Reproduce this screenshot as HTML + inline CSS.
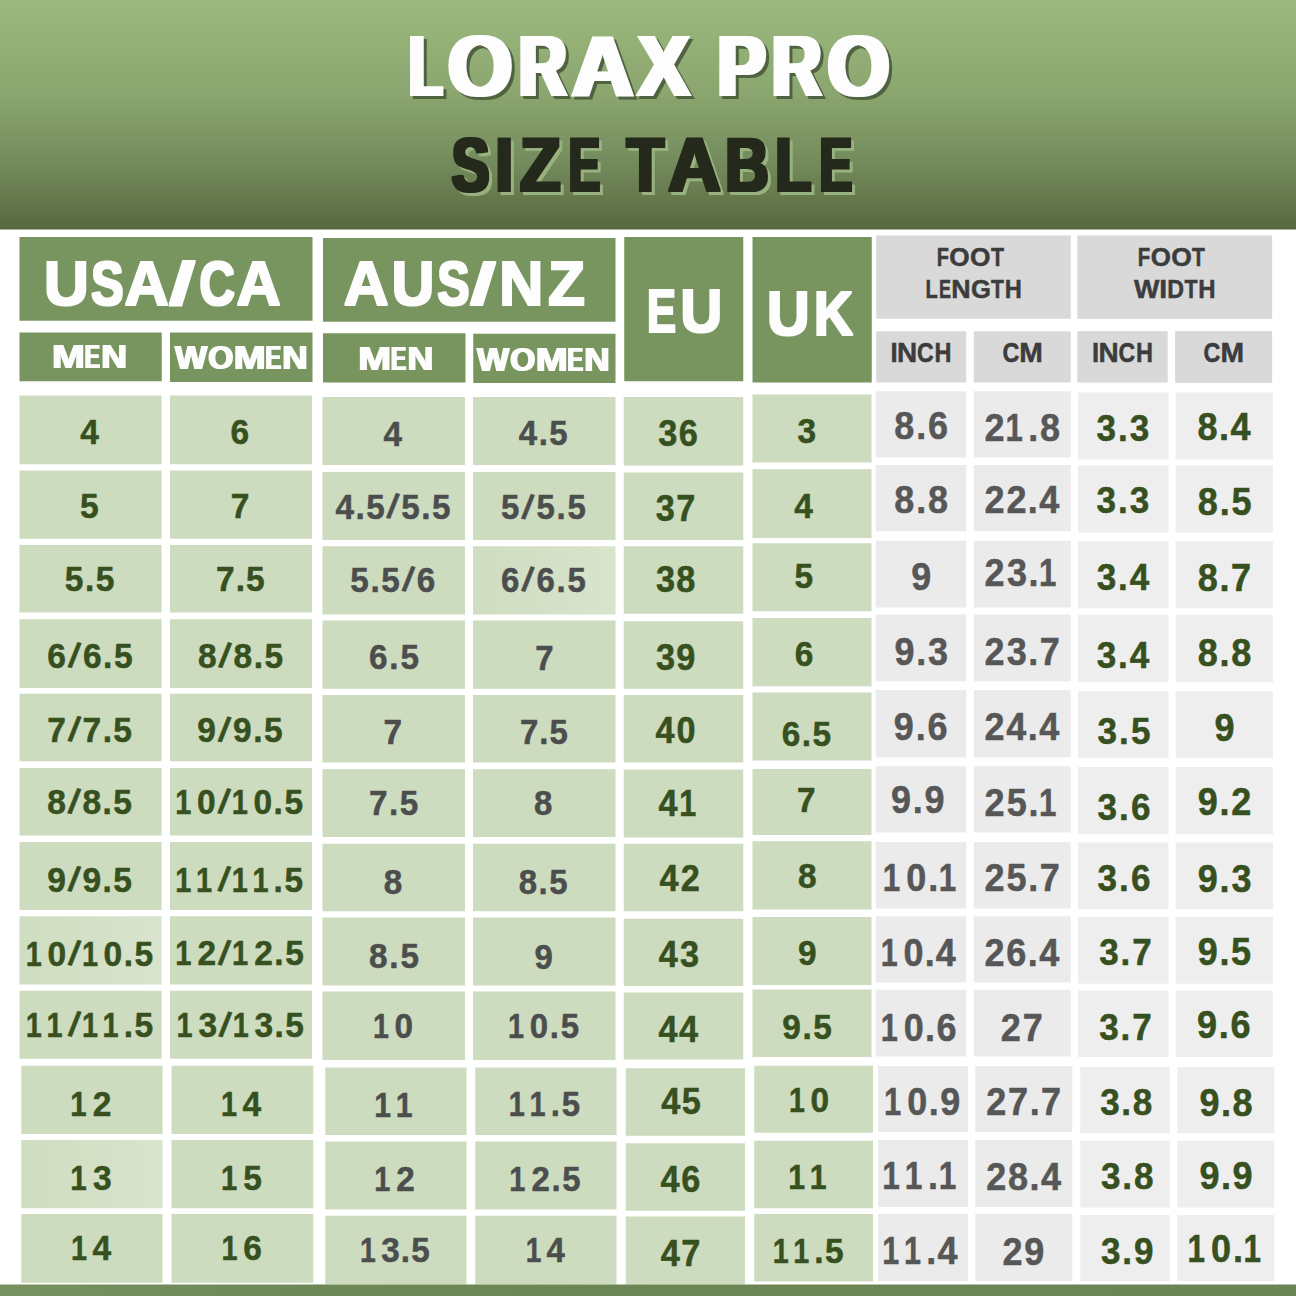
<!DOCTYPE html>
<html><head><meta charset="utf-8"><title>LORAX PRO Size Table</title>
<style>
html,body{margin:0;padding:0;background:#ffffff;}
body{width:1296px;height:1296px;overflow:hidden;}
svg{display:block;}
text{font-family:"Liberation Sans",Arial,sans-serif;font-weight:700;font-kerning:none;}
</style></head><body>
<svg width="1296" height="1296" viewBox="0 0 1296 1296">
<rect x="0" y="0" width="1296" height="1296" fill="#ffffff"/>
<defs><linearGradient id="hg" x1="0" y1="0" x2="0" y2="1"><stop offset="0" stop-color="#9bb97e"/><stop offset="0.4" stop-color="#8ba66f"/><stop offset="0.7" stop-color="#748c5d"/><stop offset="1.0" stop-color="#58683f"/></linearGradient></defs>
<defs><linearGradient id="lg" x1="0" y1="0" x2="1" y2="0"><stop offset="0" stop-color="#cfddc1"/><stop offset="1" stop-color="#d8e4cc"/></linearGradient></defs>
<rect x="0" y="0" width="1296" height="229.5" fill="url(#hg)"/>
<defs><filter id="fT" x="-5%" y="-15%" width="112%" height="130%" color-interpolation-filters="sRGB"><feMorphology in="SourceGraphic" operator="dilate" radius="3.4 0.4" result="d"/><feOffset in="d" dx="3" dy="3" result="o"/><feFlood flood-color="#4f6340"/><feComposite in2="o" operator="in" result="sh"/><feMerge><feMergeNode in="sh"/><feMergeNode in="d"/></feMerge></filter><filter id="fS" x="-5%" y="-15%" width="112%" height="130%" color-interpolation-filters="sRGB"><feMorphology in="SourceGraphic" operator="dilate" radius="2.2 0.6" result="d"/><feOffset in="d" dx="2.5" dy="2.5" result="o"/><feFlood flood-color="#97b27e"/><feComposite in2="o" operator="in" result="sh"/><feMerge><feMergeNode in="sh"/><feMergeNode in="d"/></feMerge></filter></defs>
<text font-size="87.5" fill="#fdfdfd" filter="url(#fT)"><tspan x="409.44" y="96.4" textLength="32.5" lengthAdjust="spacingAndGlyphs">L</tspan><tspan x="448.11" y="96.4" textLength="64.26" lengthAdjust="spacingAndGlyphs">O</tspan><tspan x="519.01" y="96.4" textLength="47.44" lengthAdjust="spacingAndGlyphs">R</tspan><tspan x="571.77" y="96.4" textLength="61.79" lengthAdjust="spacingAndGlyphs">A</tspan><tspan x="637.82" y="96.4" textLength="51.87" lengthAdjust="spacingAndGlyphs">X</tspan> <tspan x="717.58" y="96.4" textLength="48.09" lengthAdjust="spacingAndGlyphs">P</tspan><tspan x="771.93" y="96.4" textLength="49.38" lengthAdjust="spacingAndGlyphs">R</tspan><tspan x="827.43" y="96.4" textLength="62.02" lengthAdjust="spacingAndGlyphs">O</tspan></text>
<text font-size="75.58" fill="#25291b" filter="url(#fS)"><tspan x="451.87" y="190.9" textLength="37.63" lengthAdjust="spacingAndGlyphs">S</tspan><tspan x="495.18" y="190.9" textLength="17.94" lengthAdjust="spacingAndGlyphs">I</tspan><tspan x="519.92" y="190.9" textLength="40.59" lengthAdjust="spacingAndGlyphs">Z</tspan><tspan x="568.91" y="190.9" textLength="30.79" lengthAdjust="spacingAndGlyphs">E</tspan> <tspan x="626.72" y="190.9" textLength="37.14" lengthAdjust="spacingAndGlyphs">T</tspan><tspan x="668.19" y="190.9" textLength="52.42" lengthAdjust="spacingAndGlyphs">A</tspan><tspan x="725.17" y="190.9" textLength="43.46" lengthAdjust="spacingAndGlyphs">B</tspan><tspan x="775.25" y="190.9" textLength="36.07" lengthAdjust="spacingAndGlyphs">L</tspan><tspan x="819.87" y="190.9" textLength="32.22" lengthAdjust="spacingAndGlyphs">E</tspan></text>
<rect x="19.5" y="237" width="293" height="83.75" fill="#789560"/>
<rect x="323" y="238" width="292.5" height="83.75" fill="#789560"/>
<rect x="19.5" y="332.5" width="142.25" height="48.75" fill="#789560"/>
<rect x="170" y="332.5" width="142.5" height="49.5" fill="#789560"/>
<rect x="323" y="333.25" width="142.5" height="49.25" fill="#789560"/>
<rect x="473.25" y="333.75" width="142.25" height="49.25" fill="#789560"/>
<rect x="624.25" y="237" width="119" height="144.25" fill="#789560"/>
<rect x="752.5" y="237" width="119.25" height="145.5" fill="#789560"/>
<rect x="876.25" y="235.5" width="194.5" height="83.25" fill="#d9d9d9"/>
<rect x="1077.3" y="235.4" width="194.8" height="83.6" fill="#d9d9d9"/>
<rect x="876.25" y="331.25" width="90" height="51.25" fill="#d9d9d9"/>
<rect x="973.75" y="331.25" width="97" height="51.25" fill="#d9d9d9"/>
<rect x="1077.3" y="331.1" width="90.4" height="51.5" fill="#d9d9d9"/>
<rect x="1175.1" y="331.1" width="97" height="51.9" fill="#d9d9d9"/>
<defs><filter id="fH" x="-5%" y="-15%" width="112%" height="130%" color-interpolation-filters="sRGB"><feMorphology in="SourceGraphic" operator="dilate" radius="1.2 0.6" result="d"/></filter></defs>
<defs><filter id="fM" x="-5%" y="-15%" width="112%" height="130%" color-interpolation-filters="sRGB"><feMorphology in="SourceGraphic" operator="dilate" radius="0.6 0.3" result="d"/></filter></defs>
<rect x="19.5" y="395.5" width="142" height="68.75" fill="#cddcbf"/>
<rect x="19.5" y="470.5" width="142" height="68.25" fill="#cddcbf"/>
<rect x="19.5" y="545" width="142" height="67.5" fill="#cddcbf"/>
<rect x="19.5" y="619.25" width="142" height="68.75" fill="#cddcbf"/>
<rect x="19.5" y="693.75" width="142" height="67.5" fill="#cddcbf"/>
<rect x="19.5" y="768" width="142" height="67.5" fill="#cddcbf"/>
<rect x="19.5" y="842" width="142" height="68" fill="#cddcbf"/>
<rect x="19.5" y="916.25" width="142" height="68.25" fill="url(#lg)"/>
<rect x="19.5" y="990.75" width="142" height="68" fill="#cddcbf"/>
<rect x="21.25" y="1065.75" width="141.25" height="68.25" fill="#cddcbf"/>
<rect x="21.25" y="1140" width="141.25" height="68.25" fill="url(#lg)"/>
<rect x="21.25" y="1214" width="141.25" height="68.75" fill="#cddcbf"/>
<rect x="170" y="395.5" width="142" height="68.75" fill="#cddcbf"/>
<rect x="170" y="470.5" width="142" height="68.25" fill="#cddcbf"/>
<rect x="170" y="545" width="142" height="67.5" fill="#cddcbf"/>
<rect x="170" y="619.25" width="142" height="68.75" fill="#cddcbf"/>
<rect x="170" y="693.75" width="142" height="67.5" fill="#cddcbf"/>
<rect x="170" y="768" width="142" height="67.5" fill="#cddcbf"/>
<rect x="170" y="842" width="142" height="68" fill="#cddcbf"/>
<rect x="170" y="916.25" width="142" height="68.25" fill="#cddcbf"/>
<rect x="170" y="990.75" width="142" height="68" fill="#cddcbf"/>
<rect x="171.5" y="1065.75" width="141.75" height="68.25" fill="#cddcbf"/>
<rect x="171.5" y="1140" width="141.75" height="68.25" fill="#cddcbf"/>
<rect x="171.5" y="1214" width="141.75" height="68.75" fill="#cddcbf"/>
<rect x="322.5" y="397" width="142.5" height="68" fill="#cddcbf"/>
<rect x="322.5" y="472" width="142.5" height="68" fill="#cddcbf"/>
<rect x="322.5" y="546.25" width="142.5" height="68.25" fill="#cddcbf"/>
<rect x="322.5" y="620.5" width="142.5" height="68.25" fill="#cddcbf"/>
<rect x="322.5" y="695" width="142.5" height="67.5" fill="#cddcbf"/>
<rect x="322.5" y="769.25" width="142.5" height="67.75" fill="#cddcbf"/>
<rect x="322.5" y="843.75" width="142.5" height="67.5" fill="#cddcbf"/>
<rect x="322.5" y="917.5" width="142.5" height="68" fill="#cddcbf"/>
<rect x="322.5" y="991.5" width="142.5" height="68.5" fill="#cddcbf"/>
<rect x="325.25" y="1067.5" width="141.25" height="67.5" fill="#cddcbf"/>
<rect x="325.25" y="1141.5" width="141.25" height="68" fill="#cddcbf"/>
<rect x="325.25" y="1215.75" width="141.25" height="68.75" fill="#cddcbf"/>
<rect x="473" y="397" width="142.5" height="68" fill="#cddcbf"/>
<rect x="473" y="472" width="142.5" height="68" fill="#cddcbf"/>
<rect x="473" y="546.25" width="142.5" height="68.25" fill="url(#lg)"/>
<rect x="473" y="620.5" width="142.5" height="68.25" fill="#cddcbf"/>
<rect x="473" y="695" width="142.5" height="67.5" fill="#cddcbf"/>
<rect x="473" y="769.25" width="142.5" height="67.75" fill="#cddcbf"/>
<rect x="473" y="843.75" width="142.5" height="67.5" fill="#cddcbf"/>
<rect x="473" y="917.5" width="142.5" height="68" fill="#cddcbf"/>
<rect x="473" y="991.5" width="142.5" height="68.5" fill="#cddcbf"/>
<rect x="475.25" y="1067.5" width="141.25" height="67.5" fill="#cddcbf"/>
<rect x="475.25" y="1141.5" width="141.25" height="68" fill="#cddcbf"/>
<rect x="475.25" y="1215.75" width="141.25" height="68.75" fill="#cddcbf"/>
<rect x="623.75" y="397" width="119.5" height="68.5" fill="#cddcbf"/>
<rect x="623.75" y="472.5" width="119.5" height="67.5" fill="#cddcbf"/>
<rect x="623.75" y="546.25" width="119.5" height="67.5" fill="#cddcbf"/>
<rect x="623.75" y="621.25" width="119.5" height="67.5" fill="#cddcbf"/>
<rect x="623.75" y="695" width="119.5" height="67.5" fill="#cddcbf"/>
<rect x="623.75" y="769.5" width="119.5" height="68" fill="#cddcbf"/>
<rect x="623.75" y="843.75" width="119.5" height="67.5" fill="#cddcbf"/>
<rect x="623.75" y="918.75" width="119.5" height="67.25" fill="#cddcbf"/>
<rect x="623.75" y="992.5" width="119.5" height="67" fill="#cddcbf"/>
<rect x="625.75" y="1068.25" width="119.25" height="67.5" fill="#cddcbf"/>
<rect x="625.75" y="1143.25" width="119.25" height="67.5" fill="#cddcbf"/>
<rect x="625.75" y="1216.5" width="119.25" height="68" fill="#cddcbf"/>
<rect x="752.5" y="394.5" width="119" height="68" fill="#cddcbf"/>
<rect x="752.5" y="469.25" width="119" height="68.75" fill="#cddcbf"/>
<rect x="752.5" y="543.25" width="119" height="68" fill="#cddcbf"/>
<rect x="752.5" y="618" width="119" height="68.25" fill="#cddcbf"/>
<rect x="752.5" y="692.5" width="119" height="68" fill="#cddcbf"/>
<rect x="752.5" y="769" width="119" height="66" fill="#cddcbf"/>
<rect x="752.5" y="841.25" width="119" height="68.25" fill="#cddcbf"/>
<rect x="752.5" y="917" width="119" height="68" fill="#cddcbf"/>
<rect x="752.5" y="989.5" width="119" height="67.5" fill="#cddcbf"/>
<rect x="754.25" y="1065.75" width="118.75" height="67" fill="#cddcbf"/>
<rect x="754.25" y="1140.75" width="118.75" height="67.5" fill="#cddcbf"/>
<rect x="754.25" y="1214" width="118.75" height="67.5" fill="#cddcbf"/>
<rect x="875.75" y="391.25" width="90.5" height="66.25" fill="#ebebeb"/>
<rect x="875.75" y="465" width="90.5" height="66.25" fill="#ebebeb"/>
<rect x="875.75" y="540.75" width="90.5" height="66.75" fill="#ebebeb"/>
<rect x="875.75" y="614.5" width="90.5" height="66.75" fill="#ebebeb"/>
<rect x="875.75" y="690" width="90.5" height="67.5" fill="#ebebeb"/>
<rect x="875.75" y="766.25" width="90.5" height="66.25" fill="#ebebeb"/>
<rect x="875.75" y="842" width="90.5" height="66.5" fill="#ebebeb"/>
<rect x="875.75" y="916.25" width="90.5" height="66.25" fill="#ebebeb"/>
<rect x="875.75" y="989.75" width="90.5" height="66.75" fill="#ebebeb"/>
<rect x="878" y="1066" width="90" height="66" fill="#ebebeb"/>
<rect x="878" y="1140" width="90" height="67" fill="#ebebeb"/>
<rect x="878" y="1214" width="90" height="67" fill="#ebebeb"/>
<rect x="973.75" y="391.25" width="97" height="66.25" fill="#ebebeb"/>
<rect x="973.75" y="465" width="97" height="66.25" fill="#ebebeb"/>
<rect x="973.75" y="540.75" width="97" height="66.75" fill="#ebebeb"/>
<rect x="973.75" y="614.5" width="97" height="66.75" fill="#ebebeb"/>
<rect x="973.75" y="690" width="97" height="67.5" fill="#ebebeb"/>
<rect x="973.75" y="766.25" width="97" height="66.25" fill="#ebebeb"/>
<rect x="973.75" y="842" width="97" height="66.5" fill="#ebebeb"/>
<rect x="973.75" y="916.25" width="97" height="66.25" fill="#ebebeb"/>
<rect x="973.75" y="989.75" width="97" height="66.75" fill="#ebebeb"/>
<rect x="975.25" y="1066" width="97" height="66" fill="#ebebeb"/>
<rect x="975.25" y="1140" width="97" height="67" fill="#ebebeb"/>
<rect x="975.25" y="1214" width="97" height="67" fill="#ebebeb"/>
<rect x="1078" y="392.5" width="90.5" height="67" fill="#eeeeee"/>
<rect x="1078" y="465.5" width="90.5" height="67" fill="#eeeeee"/>
<rect x="1078" y="541.25" width="90.5" height="67" fill="#eeeeee"/>
<rect x="1078" y="615" width="90.5" height="67" fill="#eeeeee"/>
<rect x="1078" y="691.25" width="90.5" height="67" fill="#eeeeee"/>
<rect x="1078" y="767" width="90.5" height="67.25" fill="#eeeeee"/>
<rect x="1078" y="842.5" width="90.5" height="66.75" fill="#eeeeee"/>
<rect x="1078" y="917" width="90.5" height="66.75" fill="#eeeeee"/>
<rect x="1078" y="990.75" width="90.5" height="66.25" fill="#eeeeee"/>
<rect x="1080.25" y="1067" width="89.5" height="66.25" fill="#eeeeee"/>
<rect x="1080.25" y="1140.75" width="89.5" height="66.75" fill="#eeeeee"/>
<rect x="1080.25" y="1215" width="89.5" height="66.25" fill="#eeeeee"/>
<rect x="1175.75" y="392.5" width="97.25" height="67" fill="#eeeeee"/>
<rect x="1175.75" y="465.5" width="97.25" height="67" fill="#eeeeee"/>
<rect x="1175.75" y="541.25" width="97.25" height="67" fill="#eeeeee"/>
<rect x="1175.75" y="615" width="97.25" height="67" fill="#eeeeee"/>
<rect x="1175.75" y="691.25" width="97.25" height="67" fill="#eeeeee"/>
<rect x="1175.75" y="767" width="97.25" height="67.25" fill="#eeeeee"/>
<rect x="1175.75" y="842.5" width="97.25" height="66.75" fill="#eeeeee"/>
<rect x="1175.75" y="917" width="97.25" height="66.75" fill="#eeeeee"/>
<rect x="1175.75" y="990.75" width="97.25" height="66.25" fill="#eeeeee"/>
<rect x="1177.25" y="1067" width="97" height="66.25" fill="#eeeeee"/>
<rect x="1177.25" y="1140.75" width="97" height="66.75" fill="#eeeeee"/>
<rect x="1177.25" y="1215" width="97" height="66.25" fill="#eeeeee"/>
<defs><linearGradient id="bg2" x1="0" y1="0" x2="1" y2="0"><stop offset="0" stop-color="#77915f"/><stop offset="0.25" stop-color="#6e8757"/><stop offset="1" stop-color="#6b8454"/></linearGradient></defs>
<rect x="0" y="1284.5" width="1296" height="11.5" fill="url(#bg2)"/>

<text font-size="63.66" fill="#fdfdfd" filter="url(#fH)"><tspan x="43.63" y="305" textLength="45.3" lengthAdjust="spacingAndGlyphs">U</tspan><tspan x="90.89" y="305" textLength="32.73" lengthAdjust="spacingAndGlyphs">S</tspan><tspan x="124.58" y="305" textLength="44.13" lengthAdjust="spacingAndGlyphs">A</tspan><tspan x="168.55" y="303.82" font-size="58.82" textLength="27.11" lengthAdjust="spacingAndGlyphs">/</tspan><tspan x="199.27" y="305" textLength="35.68" lengthAdjust="spacingAndGlyphs">C</tspan><tspan x="236.48" y="305" textLength="44.13" lengthAdjust="spacingAndGlyphs">A</tspan></text><text font-size="62.21" fill="#fdfdfd" filter="url(#fH)"><tspan x="343.86" y="305.4" textLength="44.78" lengthAdjust="spacingAndGlyphs">A</tspan><tspan x="391.62" y="305.4" textLength="43.01" lengthAdjust="spacingAndGlyphs">U</tspan><tspan x="437.2" y="305.4" textLength="32.4" lengthAdjust="spacingAndGlyphs">S</tspan><tspan x="469.87" y="304.25" font-size="57.48" textLength="26.46" lengthAdjust="spacingAndGlyphs">/</tspan><tspan x="499.08" y="305.4" textLength="44.47" lengthAdjust="spacingAndGlyphs">N</tspan><tspan x="548.09" y="305.4" textLength="37.05" lengthAdjust="spacingAndGlyphs">Z</tspan></text><text font-size="61.68" fill="#fdfdfd" filter="url(#fH)"><tspan x="647.05" y="332.4" textLength="28.95" lengthAdjust="spacingAndGlyphs">E</tspan><tspan x="680.19" y="332.4" textLength="42.17" lengthAdjust="spacingAndGlyphs">U</tspan></text><text font-size="62.03" fill="#fdfdfd" filter="url(#fH)"><tspan x="766.87" y="335.15" textLength="43.07" lengthAdjust="spacingAndGlyphs">U</tspan><tspan x="813.82" y="335.15" textLength="39.24" lengthAdjust="spacingAndGlyphs">K</tspan></text>
<text font-size="33.43" fill="#fdfdfd" filter="url(#fM)"><tspan x="51.96" y="367.9" textLength="32.88" lengthAdjust="spacingAndGlyphs">M</tspan><tspan x="84.69" y="367.9" textLength="15.1" lengthAdjust="spacingAndGlyphs">E</tspan><tspan x="101.21" y="367.9" textLength="25.8" lengthAdjust="spacingAndGlyphs">N</tspan></text>
<text font-size="33.28" fill="#fdfdfd" filter="url(#fM)"><tspan x="174.97" y="368.9" textLength="32.27" lengthAdjust="spacingAndGlyphs">W</tspan><tspan x="208.18" y="368.9" textLength="25.08" lengthAdjust="spacingAndGlyphs">O</tspan><tspan x="233.74" y="368.9" textLength="31.93" lengthAdjust="spacingAndGlyphs">M</tspan><tspan x="265.44" y="368.9" textLength="15.57" lengthAdjust="spacingAndGlyphs">E</tspan><tspan x="282.24" y="368.9" textLength="25.43" lengthAdjust="spacingAndGlyphs">N</tspan></text>
<text font-size="33.43" fill="#fdfdfd" filter="url(#fM)"><tspan x="358.21" y="370.4" textLength="32.88" lengthAdjust="spacingAndGlyphs">M</tspan><tspan x="390.94" y="370.4" textLength="15.1" lengthAdjust="spacingAndGlyphs">E</tspan><tspan x="407.46" y="370.4" textLength="25.8" lengthAdjust="spacingAndGlyphs">N</tspan></text>
<text font-size="33.28" fill="#fdfdfd" filter="url(#fM)"><tspan x="476.97" y="370.9" textLength="32.27" lengthAdjust="spacingAndGlyphs">W</tspan><tspan x="510.18" y="370.9" textLength="25.08" lengthAdjust="spacingAndGlyphs">O</tspan><tspan x="535.74" y="370.9" textLength="31.93" lengthAdjust="spacingAndGlyphs">M</tspan><tspan x="567.44" y="370.9" textLength="15.57" lengthAdjust="spacingAndGlyphs">E</tspan><tspan x="584.24" y="370.9" textLength="25.43" lengthAdjust="spacingAndGlyphs">N</tspan></text>
<text stroke="#3c3c3c" stroke-width="0.5" font-size="26.26" fill="#3c3c3c"><tspan x="936.72" y="265.65" textLength="12.16" lengthAdjust="spacingAndGlyphs">F</tspan><tspan x="949.28" y="265.65" textLength="20.37" lengthAdjust="spacingAndGlyphs">O</tspan><tspan x="969.97" y="265.65" textLength="20.49" lengthAdjust="spacingAndGlyphs">O</tspan><tspan x="990.91" y="265.65" textLength="13.07" lengthAdjust="spacingAndGlyphs">T</tspan></text>
<text stroke="#3c3c3c" stroke-width="0.5" font-size="26.26" fill="#3c3c3c"><tspan x="925.51" y="298.35" textLength="12.26" lengthAdjust="spacingAndGlyphs">L</tspan><tspan x="939.05" y="298.35" textLength="12.01" lengthAdjust="spacingAndGlyphs">E</tspan><tspan x="951.35" y="298.35" textLength="19.41" lengthAdjust="spacingAndGlyphs">N</tspan><tspan x="971" y="298.35" textLength="19.94" lengthAdjust="spacingAndGlyphs">G</tspan><tspan x="991.11" y="298.35" textLength="12.86" lengthAdjust="spacingAndGlyphs">T</tspan><tspan x="1004.87" y="298.35" textLength="17.07" lengthAdjust="spacingAndGlyphs">H</tspan></text>
<text stroke="#3c3c3c" stroke-width="0.5" font-size="25.97" fill="#3c3c3c"><tspan x="1137.79" y="265.55" textLength="12.4" lengthAdjust="spacingAndGlyphs">F</tspan><tspan x="1150.79" y="265.55" textLength="20.15" lengthAdjust="spacingAndGlyphs">O</tspan><tspan x="1171.26" y="265.55" textLength="20.6" lengthAdjust="spacingAndGlyphs">O</tspan><tspan x="1192.01" y="265.55" textLength="12.86" lengthAdjust="spacingAndGlyphs">T</tspan></text>
<text stroke="#3c3c3c" stroke-width="0.5" font-size="26.12" fill="#3c3c3c"><tspan x="1134.12" y="298.05" textLength="25.35" lengthAdjust="spacingAndGlyphs">W</tspan><tspan x="1159.25" y="298.05" textLength="7.91" lengthAdjust="spacingAndGlyphs">I</tspan><tspan x="1167.3" y="298.05" textLength="16.72" lengthAdjust="spacingAndGlyphs">D</tspan><tspan x="1184.41" y="298.05" textLength="13.07" lengthAdjust="spacingAndGlyphs">T</tspan><tspan x="1198.15" y="298.05" textLength="17.32" lengthAdjust="spacingAndGlyphs">H</tspan></text>
<text stroke="#3c3c3c" stroke-width="0.5" font-size="26.84" fill="#3c3c3c"><tspan x="890.53" y="361.75" textLength="7.14" lengthAdjust="spacingAndGlyphs">I</tspan><tspan x="897.08" y="361.75" textLength="20.15" lengthAdjust="spacingAndGlyphs">N</tspan><tspan x="917.1" y="361.75" textLength="16.68" lengthAdjust="spacingAndGlyphs">C</tspan><tspan x="934.58" y="361.75" textLength="16.95" lengthAdjust="spacingAndGlyphs">H</tspan></text>
<text stroke="#3c3c3c" stroke-width="0.5" font-size="26.84" fill="#3c3c3c"><tspan x="1002.39" y="361.75" textLength="16.9" lengthAdjust="spacingAndGlyphs">C</tspan><tspan x="1019.36" y="361.75" textLength="23.59" lengthAdjust="spacingAndGlyphs">M</tspan></text>
<text stroke="#3c3c3c" stroke-width="0.5" font-size="26.84" fill="#3c3c3c"><tspan x="1091.93" y="362.35" textLength="7.14" lengthAdjust="spacingAndGlyphs">I</tspan><tspan x="1098.48" y="362.35" textLength="20.15" lengthAdjust="spacingAndGlyphs">N</tspan><tspan x="1118.5" y="362.35" textLength="16.68" lengthAdjust="spacingAndGlyphs">C</tspan><tspan x="1135.98" y="362.35" textLength="16.95" lengthAdjust="spacingAndGlyphs">H</tspan></text>
<text stroke="#3c3c3c" stroke-width="0.5" font-size="26.84" fill="#3c3c3c"><tspan x="1203.59" y="362.35" textLength="16.9" lengthAdjust="spacingAndGlyphs">C</tspan><tspan x="1220.56" y="362.35" textLength="23.59" lengthAdjust="spacingAndGlyphs">M</tspan></text>
<text transform="scale(0.95 1)" font-size="35.34" fill="#375020" stroke="#375020" stroke-width="0.5" stroke-linejoin="round"><tspan x="84.47" y="444.07">4</tspan></text>
<text transform="scale(0.95 1)" font-size="35.34" fill="#375020" stroke="#375020" stroke-width="0.5" stroke-linejoin="round"><tspan x="84.2" y="518.27">5</tspan></text>
<text transform="scale(0.95 1)" font-size="35.34" fill="#375020" stroke="#375020" stroke-width="0.5" stroke-linejoin="round"><tspan x="68.16" y="591.33">5</tspan><tspan x="89.38" y="591.33">.</tspan><tspan x="100.77" y="591.33">5</tspan></text>
<text transform="scale(0.95 1)" font-size="35.34" fill="#375020" stroke="#375020" stroke-width="0.5" stroke-linejoin="round"><tspan x="49.78" y="667.98">6</tspan><tspan x="71" y="666.35" font-size="35.22" rotate="12">/</tspan><tspan x="87.33" y="667.98">6</tspan><tspan x="108.54" y="667.98">.</tspan><tspan x="119.96" y="667.98">5</tspan></text>
<text transform="scale(0.95 1)" font-size="35.34" fill="#375020" stroke="#375020" stroke-width="0.5" stroke-linejoin="round"><tspan x="49.84" y="741.71">7</tspan><tspan x="70.96" y="740.08" font-size="35.22" rotate="12">/</tspan><tspan x="86.93" y="741.71">7</tspan><tspan x="108.07" y="741.71">.</tspan><tspan x="119.29" y="741.71">5</tspan></text>
<text transform="scale(0.95 1)" font-size="35.34" fill="#375020" stroke="#375020" stroke-width="0.5" stroke-linejoin="round"><tspan x="49.63" y="814">8</tspan><tspan x="70.75" y="812.37" font-size="35.22" rotate="12">/</tspan><tspan x="86.85" y="814">8</tspan><tspan x="107.98" y="814">.</tspan><tspan x="119.26" y="814">5</tspan></text>
<text transform="scale(0.95 1)" font-size="35.34" fill="#375020" stroke="#375020" stroke-width="0.5" stroke-linejoin="round"><tspan x="49.73" y="891.73">9</tspan><tspan x="70.82" y="890.1" font-size="35.22" rotate="12">/</tspan><tspan x="86.91" y="891.73">9</tspan><tspan x="108.01" y="891.73">.</tspan><tspan x="119.27" y="891.73">5</tspan></text>
<text transform="scale(0.95 1)" font-size="35.34" fill="#375020" stroke="#375020" stroke-width="0.5" stroke-linejoin="round"><tspan x="27.23" y="965.53" textLength="16.88" lengthAdjust="spacingAndGlyphs">1</tspan><tspan x="49.98" y="965.53">0</tspan><tspan x="71.14" y="963.9" font-size="35.22" rotate="12">/</tspan><tspan x="86.31" y="965.53" textLength="16.88" lengthAdjust="spacingAndGlyphs">1</tspan><tspan x="109.06" y="965.53">0</tspan><tspan x="130.23" y="965.53">.</tspan><tspan x="141.58" y="965.53">5</tspan></text>
<text transform="scale(0.95 1)" font-size="35.34" fill="#375020" stroke="#375020" stroke-width="0.5" stroke-linejoin="round"><tspan x="27.23" y="1036.71" textLength="16.88" lengthAdjust="spacingAndGlyphs">1</tspan><tspan x="48.92" y="1036.71" textLength="16.88" lengthAdjust="spacingAndGlyphs">1</tspan><tspan x="71.14" y="1035.08" font-size="35.22" rotate="12">/</tspan><tspan x="86.31" y="1036.71" textLength="16.88" lengthAdjust="spacingAndGlyphs">1</tspan><tspan x="108.01" y="1036.71" textLength="16.88" lengthAdjust="spacingAndGlyphs">1</tspan><tspan x="130.23" y="1036.71">.</tspan><tspan x="141.58" y="1036.71">5</tspan></text>
<text transform="scale(0.95 1)" font-size="35.34" fill="#375020" stroke="#375020" stroke-width="0.5" stroke-linejoin="round"><tspan x="74.02" y="1116.5" textLength="17.25" lengthAdjust="spacingAndGlyphs">1</tspan><tspan x="97.65" y="1116.5">2</tspan></text>
<text transform="scale(0.95 1)" font-size="35.34" fill="#375020" stroke="#375020" stroke-width="0.5" stroke-linejoin="round"><tspan x="74" y="1190.08" textLength="17.36" lengthAdjust="spacingAndGlyphs">1</tspan><tspan x="97.86" y="1190.08">3</tspan></text>
<text transform="scale(0.95 1)" font-size="35.34" fill="#375020" stroke="#375020" stroke-width="0.5" stroke-linejoin="round"><tspan x="74.86" y="1260.07" textLength="16.88" lengthAdjust="spacingAndGlyphs">1</tspan><tspan x="97.41" y="1260.07">4</tspan></text>
<text transform="scale(0.95 1)" font-size="35.27" fill="#375020" stroke="#375020" stroke-width="0.5" stroke-linejoin="round"><tspan x="242.68" y="444.02">6</tspan></text>
<text transform="scale(0.95 1)" font-size="35.27" fill="#375020" stroke="#375020" stroke-width="0.5" stroke-linejoin="round"><tspan x="242.84" y="518.4">7</tspan></text>
<text transform="scale(0.95 1)" font-size="35.27" fill="#375020" stroke="#375020" stroke-width="0.5" stroke-linejoin="round"><tspan x="227.29" y="591.31">7</tspan><tspan x="248.08" y="591.31">.</tspan><tspan x="258.97" y="591.31">5</tspan></text>
<text transform="scale(0.95 1)" font-size="35.27" fill="#375020" stroke="#375020" stroke-width="0.5" stroke-linejoin="round"><tspan x="208.39" y="667.97">8</tspan><tspan x="229.61" y="666.34" font-size="35.15" rotate="12">/</tspan><tspan x="245.83" y="667.97">8</tspan><tspan x="267.05" y="667.97">.</tspan><tspan x="278.43" y="667.97">5</tspan></text>
<text transform="scale(0.95 1)" font-size="35.27" fill="#375020" stroke="#375020" stroke-width="0.5" stroke-linejoin="round"><tspan x="207.73" y="742.08">9</tspan><tspan x="228.98" y="740.45" font-size="35.15" rotate="12">/</tspan><tspan x="245.24" y="742.08">9</tspan><tspan x="266.48" y="742.08">.</tspan><tspan x="277.89" y="742.08">5</tspan></text>
<text transform="scale(0.95 1)" font-size="35.27" fill="#375020" stroke="#375020" stroke-width="0.5" stroke-linejoin="round"><tspan x="184.58" y="814.01" textLength="16.95" lengthAdjust="spacingAndGlyphs">1</tspan><tspan x="207.49" y="814.01">0</tspan><tspan x="228.72" y="812.38" font-size="35.15" rotate="12">/</tspan><tspan x="243.91" y="814.01" textLength="16.95" lengthAdjust="spacingAndGlyphs">1</tspan><tspan x="266.81" y="814.01">0</tspan><tspan x="288.03" y="814.01">.</tspan><tspan x="299.46" y="814.01">5</tspan></text>
<text transform="scale(0.95 1)" font-size="35.27" fill="#375020" stroke="#375020" stroke-width="0.5" stroke-linejoin="round"><tspan x="184.58" y="891.56" textLength="16.95" lengthAdjust="spacingAndGlyphs">1</tspan><tspan x="206.37" y="891.56" textLength="16.95" lengthAdjust="spacingAndGlyphs">1</tspan><tspan x="228.72" y="889.93" font-size="35.15" rotate="12">/</tspan><tspan x="243.91" y="891.56" textLength="16.95" lengthAdjust="spacingAndGlyphs">1</tspan><tspan x="265.69" y="891.56" textLength="16.95" lengthAdjust="spacingAndGlyphs">1</tspan><tspan x="288.03" y="891.56">.</tspan><tspan x="299.46" y="891.56">5</tspan></text>
<text transform="scale(0.95 1)" font-size="35.27" fill="#375020" stroke="#375020" stroke-width="0.5" stroke-linejoin="round"><tspan x="184.57" y="965.49" textLength="17.05" lengthAdjust="spacingAndGlyphs">1</tspan><tspan x="207.85" y="965.49">2</tspan><tspan x="229.01" y="963.86" font-size="35.15" rotate="12">/</tspan><tspan x="244.25" y="965.49" textLength="17.05" lengthAdjust="spacingAndGlyphs">1</tspan><tspan x="267.53" y="965.49">2</tspan><tspan x="288.67" y="965.49">.</tspan><tspan x="300.19" y="965.49">5</tspan></text>
<text transform="scale(0.95 1)" font-size="35.27" fill="#375020" stroke="#375020" stroke-width="0.5" stroke-linejoin="round"><tspan x="185.91" y="1037.24" textLength="16.88" lengthAdjust="spacingAndGlyphs">1</tspan><tspan x="208.87" y="1037.24">3</tspan><tspan x="229.84" y="1035.61" font-size="35.15" rotate="12">/</tspan><tspan x="245" y="1037.24" textLength="16.88" lengthAdjust="spacingAndGlyphs">1</tspan><tspan x="267.96" y="1037.24">3</tspan><tspan x="288.92" y="1037.24">.</tspan><tspan x="300.29" y="1037.24">5</tspan></text>
<text transform="scale(0.95 1)" font-size="35.27" fill="#375020" stroke="#375020" stroke-width="0.5" stroke-linejoin="round"><tspan x="232.75" y="1116.29" textLength="16.88" lengthAdjust="spacingAndGlyphs">1</tspan><tspan x="255.33" y="1116.29">4</tspan></text>
<text transform="scale(0.95 1)" font-size="35.27" fill="#375020" stroke="#375020" stroke-width="0.5" stroke-linejoin="round"><tspan x="232.72" y="1190.49" textLength="17.13" lengthAdjust="spacingAndGlyphs">1</tspan><tspan x="255.95" y="1190.49">5</tspan></text>
<text transform="scale(0.95 1)" font-size="35.27" fill="#375020" stroke="#375020" stroke-width="0.5" stroke-linejoin="round"><tspan x="233.27" y="1260.39" textLength="16.91" lengthAdjust="spacingAndGlyphs">1</tspan><tspan x="256.12" y="1260.39">6</tspan></text>
<text transform="scale(0.95 1)" font-size="35.06" fill="#4c4e4e" stroke="#4c4e4e" stroke-width="0.5" stroke-linejoin="round"><tspan x="403.63" y="445.72">4</tspan></text>
<text transform="scale(0.95 1)" font-size="35.06" fill="#4c4e4e" stroke="#4c4e4e" stroke-width="0.5" stroke-linejoin="round"><tspan x="353.09" y="518.73">4</tspan><tspan x="374.23" y="518.73">.</tspan><tspan x="385.45" y="518.73">5</tspan><tspan x="406.41" y="517.12" font-size="34.95" rotate="12">/</tspan><tspan x="422.46" y="518.73">5</tspan><tspan x="443.43" y="518.73">.</tspan><tspan x="454.65" y="518.73">5</tspan></text>
<text transform="scale(0.95 1)" font-size="35.06" fill="#4c4e4e" stroke="#4c4e4e" stroke-width="0.5" stroke-linejoin="round"><tspan x="368.75" y="591.63">5</tspan><tspan x="389.91" y="591.63">.</tspan><tspan x="401.33" y="591.63">5</tspan><tspan x="422.51" y="590.01" font-size="34.95" rotate="12">/</tspan><tspan x="438.81" y="591.63">6</tspan></text>
<text transform="scale(0.95 1)" font-size="35.06" fill="#4c4e4e" stroke="#4c4e4e" stroke-width="0.5" stroke-linejoin="round"><tspan x="388.41" y="669.13">6</tspan><tspan x="409.81" y="669.13">.</tspan><tspan x="421.5" y="669.13">5</tspan></text>
<text transform="scale(0.95 1)" font-size="35.06" fill="#4c4e4e" stroke="#4c4e4e" stroke-width="0.5" stroke-linejoin="round"><tspan x="403.82" y="743.57">7</tspan></text>
<text transform="scale(0.95 1)" font-size="35.06" fill="#4c4e4e" stroke="#4c4e4e" stroke-width="0.5" stroke-linejoin="round"><tspan x="388.39" y="814.98">7</tspan><tspan x="409.57" y="814.98">.</tspan><tspan x="420.9" y="814.98">5</tspan></text>
<text transform="scale(0.95 1)" font-size="35.06" fill="#4c4e4e" stroke="#4c4e4e" stroke-width="0.5" stroke-linejoin="round"><tspan x="403.92" y="893.58">8</tspan></text>
<text transform="scale(0.95 1)" font-size="35.06" fill="#4c4e4e" stroke="#4c4e4e" stroke-width="0.5" stroke-linejoin="round"><tspan x="388.35" y="967.52">8</tspan><tspan x="409.81" y="967.52">.</tspan><tspan x="421.5" y="967.52">5</tspan></text>
<text transform="scale(0.95 1)" font-size="35.06" fill="#4c4e4e" stroke="#4c4e4e" stroke-width="0.5" stroke-linejoin="round"><tspan x="392.77" y="1038.12" textLength="16.75" lengthAdjust="spacingAndGlyphs">1</tspan><tspan x="415.34" y="1038.12">0</tspan></text>
<text transform="scale(0.95 1)" font-size="35.06" fill="#4c4e4e" stroke="#4c4e4e" stroke-width="0.5" stroke-linejoin="round"><tspan x="393.96" y="1116.84" textLength="17.7" lengthAdjust="spacingAndGlyphs">1</tspan><tspan x="416.7" y="1116.84" textLength="17.7" lengthAdjust="spacingAndGlyphs">1</tspan></text>
<text transform="scale(0.95 1)" font-size="35.06" fill="#4c4e4e" stroke="#4c4e4e" stroke-width="0.5" stroke-linejoin="round"><tspan x="394.06" y="1191.4" textLength="16.91" lengthAdjust="spacingAndGlyphs">1</tspan><tspan x="417.12" y="1191.4">2</tspan></text>
<text transform="scale(0.95 1)" font-size="35.06" fill="#4c4e4e" stroke="#4c4e4e" stroke-width="0.5" stroke-linejoin="round"><tspan x="378.85" y="1261.79" textLength="16.55" lengthAdjust="spacingAndGlyphs">1</tspan><tspan x="401.21" y="1261.79">3</tspan><tspan x="421.83" y="1261.79">.</tspan><tspan x="432.89" y="1261.79">5</tspan></text>
<text transform="scale(0.95 1)" font-size="34.72" fill="#4c4e4e" stroke="#4c4e4e" stroke-width="0.5" stroke-linejoin="round"><tspan x="546.03" y="444.74">4</tspan><tspan x="567.03" y="444.74">.</tspan><tspan x="578.21" y="444.74">5</tspan></text>
<text transform="scale(0.95 1)" font-size="34.72" fill="#4c4e4e" stroke="#4c4e4e" stroke-width="0.5" stroke-linejoin="round"><tspan x="527.26" y="519.49">5</tspan><tspan x="548.42" y="517.89" font-size="34.6" rotate="12">/</tspan><tspan x="564.7" y="519.49">5</tspan><tspan x="585.81" y="519.49">.</tspan><tspan x="597.27" y="519.49">5</tspan></text>
<text transform="scale(0.95 1)" font-size="34.72" fill="#4c4e4e" stroke="#4c4e4e" stroke-width="0.5" stroke-linejoin="round"><tspan x="527.29" y="591.51">6</tspan><tspan x="548.41" y="589.91" font-size="34.6" rotate="12">/</tspan><tspan x="564.73" y="591.51">6</tspan><tspan x="585.81" y="591.51">.</tspan><tspan x="597.27" y="591.51">5</tspan></text>
<text transform="scale(0.95 1)" font-size="34.72" fill="#4c4e4e" stroke="#4c4e4e" stroke-width="0.5" stroke-linejoin="round"><tspan x="563.39" y="669.7">7</tspan></text>
<text transform="scale(0.95 1)" font-size="34.72" fill="#4c4e4e" stroke="#4c4e4e" stroke-width="0.5" stroke-linejoin="round"><tspan x="547.29" y="743.61">7</tspan><tspan x="567.76" y="743.61">.</tspan><tspan x="578.47" y="743.61">5</tspan></text>
<text transform="scale(0.95 1)" font-size="34.72" fill="#4c4e4e" stroke="#4c4e4e" stroke-width="0.5" stroke-linejoin="round"><tspan x="562.17" y="814.71">8</tspan></text>
<text transform="scale(0.95 1)" font-size="34.72" fill="#4c4e4e" stroke="#4c4e4e" stroke-width="0.5" stroke-linejoin="round"><tspan x="546.04" y="893.77">8</tspan><tspan x="566.96" y="893.77">.</tspan><tspan x="578.19" y="893.77">5</tspan></text>
<text transform="scale(0.95 1)" font-size="34.72" fill="#4c4e4e" stroke="#4c4e4e" stroke-width="0.5" stroke-linejoin="round"><tspan x="562.62" y="968.82">9</tspan></text>
<text transform="scale(0.95 1)" font-size="34.72" fill="#4c4e4e" stroke="#4c4e4e" stroke-width="0.5" stroke-linejoin="round"><tspan x="534.86" y="1038.31" textLength="16.86" lengthAdjust="spacingAndGlyphs">1</tspan><tspan x="557.73" y="1038.31">0</tspan><tspan x="578.78" y="1038.31">.</tspan><tspan x="590.19" y="1038.31">5</tspan></text>
<text transform="scale(0.95 1)" font-size="34.72" fill="#4c4e4e" stroke="#4c4e4e" stroke-width="0.5" stroke-linejoin="round"><tspan x="535.64" y="1116.49" textLength="16.92" lengthAdjust="spacingAndGlyphs">1</tspan><tspan x="557.38" y="1116.49" textLength="16.92" lengthAdjust="spacingAndGlyphs">1</tspan><tspan x="579.74" y="1116.49">.</tspan><tspan x="591.21" y="1116.49">5</tspan></text>
<text transform="scale(0.95 1)" font-size="34.72" fill="#4c4e4e" stroke="#4c4e4e" stroke-width="0.5" stroke-linejoin="round"><tspan x="536.16" y="1191.29" textLength="16.98" lengthAdjust="spacingAndGlyphs">1</tspan><tspan x="559.45" y="1191.29">2</tspan><tspan x="580.44" y="1191.29">.</tspan><tspan x="591.97" y="1191.29">5</tspan></text>
<text transform="scale(0.95 1)" font-size="34.72" fill="#4c4e4e" stroke="#4c4e4e" stroke-width="0.5" stroke-linejoin="round"><tspan x="553.34" y="1261.72" textLength="16.44" lengthAdjust="spacingAndGlyphs">1</tspan><tspan x="575.22" y="1261.72">4</tspan></text>
<text transform="scale(0.95 1)" font-size="36.13" fill="#375020" stroke="#375020" stroke-width="0.5" stroke-linejoin="round"><tspan x="693.01" y="445.86">3</tspan><tspan x="714.57" y="445.86">6</tspan></text>
<text transform="scale(0.95 1)" font-size="36.13" fill="#375020" stroke="#375020" stroke-width="0.5" stroke-linejoin="round"><tspan x="690.38" y="521.24">3</tspan><tspan x="711.8" y="521.24">7</tspan></text>
<text transform="scale(0.95 1)" font-size="36.13" fill="#375020" stroke="#375020" stroke-width="0.5" stroke-linejoin="round"><tspan x="690.41" y="592.49">3</tspan><tspan x="711.95" y="592.49">8</tspan></text>
<text transform="scale(0.95 1)" font-size="36.13" fill="#375020" stroke="#375020" stroke-width="0.5" stroke-linejoin="round"><tspan x="690.41" y="669.61">3</tspan><tspan x="711.96" y="669.61">9</tspan></text>
<text transform="scale(0.95 1)" font-size="36.13" fill="#375020" stroke="#375020" stroke-width="0.5" stroke-linejoin="round"><tspan x="690.05" y="742.75">4</tspan><tspan x="712.03" y="742.75">0</tspan></text>
<text transform="scale(0.95 1)" font-size="36.13" fill="#375020" stroke="#375020" stroke-width="0.5" stroke-linejoin="round"><tspan x="693.25" y="815.85">4</tspan><tspan x="714.93" y="815.85" textLength="17.9" lengthAdjust="spacingAndGlyphs">1</tspan></text>
<text transform="scale(0.95 1)" font-size="36.13" fill="#375020" stroke="#375020" stroke-width="0.5" stroke-linejoin="round"><tspan x="694.35" y="891.04">4</tspan><tspan x="716.71" y="891.04">2</tspan></text>
<text transform="scale(0.95 1)" font-size="36.13" fill="#375020" stroke="#375020" stroke-width="0.5" stroke-linejoin="round"><tspan x="693.5" y="967.36">4</tspan><tspan x="715.73" y="967.36">3</tspan></text>
<text transform="scale(0.95 1)" font-size="36.13" fill="#375020" stroke="#375020" stroke-width="0.5" stroke-linejoin="round"><tspan x="693.28" y="1041.85">4</tspan><tspan x="714.69" y="1041.85">4</tspan></text>
<text transform="scale(0.95 1)" font-size="36.13" fill="#375020" stroke="#375020" stroke-width="0.5" stroke-linejoin="round"><tspan x="695.99" y="1114.17">4</tspan><tspan x="717.73" y="1114.17">5</tspan></text>
<text transform="scale(0.95 1)" font-size="36.13" fill="#375020" stroke="#375020" stroke-width="0.5" stroke-linejoin="round"><tspan x="695.28" y="1191.83">4</tspan><tspan x="717.2" y="1191.83">6</tspan></text>
<text transform="scale(0.95 1)" font-size="36.13" fill="#375020" stroke="#375020" stroke-width="0.5" stroke-linejoin="round"><tspan x="695.47" y="1265.85">4</tspan><tspan x="717.13" y="1265.85">7</tspan></text>
<text transform="scale(0.95 1)" font-size="35.2" fill="#375020" stroke="#375020" stroke-width="0.5" stroke-linejoin="round"><tspan x="839.39" y="442.78">3</tspan></text>
<text transform="scale(0.95 1)" font-size="35.2" fill="#375020" stroke="#375020" stroke-width="0.5" stroke-linejoin="round"><tspan x="836.09" y="518.02">4</tspan></text>
<text transform="scale(0.95 1)" font-size="35.2" fill="#375020" stroke="#375020" stroke-width="0.5" stroke-linejoin="round"><tspan x="836.21" y="588.47">5</tspan></text>
<text transform="scale(0.95 1)" font-size="35.2" fill="#375020" stroke="#375020" stroke-width="0.5" stroke-linejoin="round"><tspan x="836.52" y="666.12">6</tspan></text>
<text transform="scale(0.95 1)" font-size="35.2" fill="#375020" stroke="#375020" stroke-width="0.5" stroke-linejoin="round"><tspan x="822.91" y="745.8">6</tspan><tspan x="844" y="745.8">.</tspan><tspan x="855.33" y="745.8">5</tspan></text>
<text transform="scale(0.95 1)" font-size="35.2" fill="#375020" stroke="#375020" stroke-width="0.5" stroke-linejoin="round"><tspan x="838.91" y="812.37">7</tspan></text>
<text transform="scale(0.95 1)" font-size="35.2" fill="#375020" stroke="#375020" stroke-width="0.5" stroke-linejoin="round"><tspan x="839.93" y="888.26">8</tspan></text>
<text transform="scale(0.95 1)" font-size="35.2" fill="#375020" stroke="#375020" stroke-width="0.5" stroke-linejoin="round"><tspan x="839.99" y="965.12">9</tspan></text>
<text transform="scale(0.95 1)" font-size="35.2" fill="#375020" stroke="#375020" stroke-width="0.5" stroke-linejoin="round"><tspan x="823.52" y="1038.68">9</tspan><tspan x="844.71" y="1038.68">.</tspan><tspan x="856.09" y="1038.68">5</tspan></text>
<text transform="scale(0.95 1)" font-size="35.2" fill="#375020" stroke="#375020" stroke-width="0.5" stroke-linejoin="round"><tspan x="830.66" y="1111.54" textLength="16.75" lengthAdjust="spacingAndGlyphs">1</tspan><tspan x="853.2" y="1111.54">0</tspan></text>
<text transform="scale(0.95 1)" font-size="35.2" fill="#375020" stroke="#375020" stroke-width="0.5" stroke-linejoin="round"><tspan x="829.75" y="1188.52" textLength="17.7" lengthAdjust="spacingAndGlyphs">1</tspan><tspan x="852.49" y="1188.52" textLength="17.7" lengthAdjust="spacingAndGlyphs">1</tspan></text>
<text transform="scale(0.95 1)" font-size="35.2" fill="#375020" stroke="#375020" stroke-width="0.5" stroke-linejoin="round"><tspan x="813.55" y="1262.53" textLength="16.79" lengthAdjust="spacingAndGlyphs">1</tspan><tspan x="835.13" y="1262.53" textLength="16.79" lengthAdjust="spacingAndGlyphs">1</tspan><tspan x="857.23" y="1262.53">.</tspan><tspan x="868.51" y="1262.53">5</tspan></text>
<text transform="scale(0.95 1)" font-size="37.88" fill="#575757" stroke="#575757" stroke-width="0.5" stroke-linejoin="round"><tspan x="941.4" y="438.66">8</tspan><tspan x="964.42" y="438.66">.</tspan><tspan x="976.92" y="438.66">6</tspan></text>
<text transform="scale(0.95 1)" font-size="37.88" fill="#575757" stroke="#575757" stroke-width="0.5" stroke-linejoin="round"><tspan x="941.42" y="513.28">8</tspan><tspan x="964.48" y="513.28">.</tspan><tspan x="976.95" y="513.28">8</tspan></text>
<text transform="scale(0.95 1)" font-size="37.88" fill="#575757" stroke="#575757" stroke-width="0.5" stroke-linejoin="round"><tspan x="959.25" y="589.58">9</tspan></text>
<text transform="scale(0.95 1)" font-size="37.88" fill="#575757" stroke="#575757" stroke-width="0.5" stroke-linejoin="round"><tspan x="941.46" y="664.55">9</tspan><tspan x="964.36" y="664.55">.</tspan><tspan x="976.92" y="664.55">3</tspan></text>
<text transform="scale(0.95 1)" font-size="37.88" fill="#575757" stroke="#575757" stroke-width="0.5" stroke-linejoin="round"><tspan x="940.76" y="740.14">9</tspan><tspan x="963.82" y="740.14">.</tspan><tspan x="976.36" y="740.14">6</tspan></text>
<text transform="scale(0.95 1)" font-size="37.88" fill="#575757" stroke="#575757" stroke-width="0.5" stroke-linejoin="round"><tspan x="938.01" y="812.64">9</tspan><tspan x="960.86" y="812.64">.</tspan><tspan x="973.12" y="812.64">9</tspan></text>
<text transform="scale(0.95 1)" font-size="37.88" fill="#575757" stroke="#575757" stroke-width="0.5" stroke-linejoin="round"><tspan x="929.13" y="891.45" textLength="18.38" lengthAdjust="spacingAndGlyphs">1</tspan><tspan x="954.07" y="891.45">0</tspan><tspan x="977.03" y="891.45">.</tspan><tspan x="988.17" y="891.45" textLength="18.38" lengthAdjust="spacingAndGlyphs">1</tspan></text>
<text transform="scale(0.95 1)" font-size="37.88" fill="#575757" stroke="#575757" stroke-width="0.5" stroke-linejoin="round"><tspan x="927.1" y="966.2" textLength="17.81" lengthAdjust="spacingAndGlyphs">1</tspan><tspan x="950.94" y="966.2">0</tspan><tspan x="973.36" y="966.2">.</tspan><tspan x="985.07" y="966.2">4</tspan></text>
<text transform="scale(0.95 1)" font-size="37.88" fill="#575757" stroke="#575757" stroke-width="0.5" stroke-linejoin="round"><tspan x="927.08" y="1040.7" textLength="17.96" lengthAdjust="spacingAndGlyphs">1</tspan><tspan x="951.21" y="1040.7">0</tspan><tspan x="973.77" y="1040.7">.</tspan><tspan x="985.85" y="1040.7">6</tspan></text>
<text transform="scale(0.95 1)" font-size="37.88" fill="#575757" stroke="#575757" stroke-width="0.5" stroke-linejoin="round"><tspan x="930.48" y="1114.95" textLength="18.12" lengthAdjust="spacingAndGlyphs">1</tspan><tspan x="954.9" y="1114.95">0</tspan><tspan x="977.61" y="1114.95">.</tspan><tspan x="989.76" y="1114.95">9</tspan></text>
<text transform="scale(0.95 1)" font-size="37.88" fill="#575757" stroke="#575757" stroke-width="0.5" stroke-linejoin="round"><tspan x="928.59" y="1189.36" textLength="18.51" lengthAdjust="spacingAndGlyphs">1</tspan><tspan x="952.37" y="1189.36" textLength="18.51" lengthAdjust="spacingAndGlyphs">1</tspan><tspan x="976.86" y="1189.36">.</tspan><tspan x="988.04" y="1189.36" textLength="18.51" lengthAdjust="spacingAndGlyphs">1</tspan></text>
<text transform="scale(0.95 1)" font-size="37.88" fill="#575757" stroke="#575757" stroke-width="0.5" stroke-linejoin="round"><tspan x="928.67" y="1264.36" textLength="17.88" lengthAdjust="spacingAndGlyphs">1</tspan><tspan x="951.64" y="1264.36" textLength="17.88" lengthAdjust="spacingAndGlyphs">1</tspan><tspan x="975.1" y="1264.36">.</tspan><tspan x="986.88" y="1264.36">4</tspan></text>
<text transform="scale(0.95 1)" font-size="37.93" fill="#575757" stroke="#575757" stroke-width="0.5" stroke-linejoin="round"><tspan x="1036.41" y="440.57">2</tspan><tspan x="1058.43" y="440.57" textLength="18.22" lengthAdjust="spacingAndGlyphs">1</tspan><tspan x="1082.44" y="440.57">.</tspan><tspan x="1094.69" y="440.57">8</tspan></text>
<text transform="scale(0.95 1)" font-size="37.93" fill="#575757" stroke="#575757" stroke-width="0.5" stroke-linejoin="round"><tspan x="1036.31" y="513.32">2</tspan><tspan x="1059.49" y="513.32">2</tspan><tspan x="1081.94" y="513.32">.</tspan><tspan x="1093.87" y="513.32">4</tspan></text>
<text transform="scale(0.95 1)" font-size="37.93" fill="#575757" stroke="#575757" stroke-width="0.5" stroke-linejoin="round"><tspan x="1036.45" y="586.19">2</tspan><tspan x="1059.97" y="586.19">3</tspan><tspan x="1082.65" y="586.19">.</tspan><tspan x="1093.77" y="586.19" textLength="18.3" lengthAdjust="spacingAndGlyphs">1</tspan></text>
<text transform="scale(0.95 1)" font-size="37.93" fill="#575757" stroke="#575757" stroke-width="0.5" stroke-linejoin="round"><tspan x="1036.39" y="664.57">2</tspan><tspan x="1059.78" y="664.57">3</tspan><tspan x="1082.36" y="664.57">.</tspan><tspan x="1094.51" y="664.57">7</tspan></text>
<text transform="scale(0.95 1)" font-size="37.93" fill="#575757" stroke="#575757" stroke-width="0.5" stroke-linejoin="round"><tspan x="1036.31" y="740.19">2</tspan><tspan x="1059.1" y="740.19">4</tspan><tspan x="1081.94" y="740.19">.</tspan><tspan x="1093.87" y="740.19">4</tspan></text>
<text transform="scale(0.95 1)" font-size="37.93" fill="#575757" stroke="#575757" stroke-width="0.5" stroke-linejoin="round"><tspan x="1036.45" y="815.82">2</tspan><tspan x="1059.75" y="815.82">5</tspan><tspan x="1082.65" y="815.82">.</tspan><tspan x="1093.77" y="815.82" textLength="18.3" lengthAdjust="spacingAndGlyphs">1</tspan></text>
<text transform="scale(0.95 1)" font-size="37.93" fill="#575757" stroke="#575757" stroke-width="0.5" stroke-linejoin="round"><tspan x="1036.39" y="891.19">2</tspan><tspan x="1059.56" y="891.19">5</tspan><tspan x="1082.36" y="891.19">.</tspan><tspan x="1094.51" y="891.19">7</tspan></text>
<text transform="scale(0.95 1)" font-size="37.93" fill="#575757" stroke="#575757" stroke-width="0.5" stroke-linejoin="round"><tspan x="1036.31" y="965.82">2</tspan><tspan x="1059.32" y="965.82">6</tspan><tspan x="1081.94" y="965.82">.</tspan><tspan x="1093.87" y="965.82">4</tspan></text>
<text transform="scale(0.95 1)" font-size="37.93" fill="#575757" stroke="#575757" stroke-width="0.5" stroke-linejoin="round"><tspan x="1053.51" y="1040.95">2</tspan><tspan x="1076.6" y="1040.95">7</tspan></text>
<text transform="scale(0.95 1)" font-size="37.93" fill="#575757" stroke="#575757" stroke-width="0.5" stroke-linejoin="round"><tspan x="1038.16" y="1114.69">2</tspan><tspan x="1061.07" y="1114.69">7</tspan><tspan x="1083.86" y="1114.69">.</tspan><tspan x="1095.89" y="1114.69">7</tspan></text>
<text transform="scale(0.95 1)" font-size="37.93" fill="#575757" stroke="#575757" stroke-width="0.5" stroke-linejoin="round"><tspan x="1038.15" y="1189.94">2</tspan><tspan x="1061.09" y="1189.94">8</tspan><tspan x="1083.78" y="1189.94">.</tspan><tspan x="1095.71" y="1189.94">4</tspan></text>
<text transform="scale(0.95 1)" font-size="37.93" fill="#575757" stroke="#575757" stroke-width="0.5" stroke-linejoin="round"><tspan x="1055.26" y="1265.01">2</tspan><tspan x="1078.21" y="1265.01">9</tspan></text>
<text transform="scale(0.95 1)" font-size="36.93" fill="#375020" stroke="#375020" stroke-width="0.5" stroke-linejoin="round"><tspan x="1154.3" y="441.08">3</tspan><tspan x="1176.74" y="441.08">.</tspan><tspan x="1189.34" y="441.08">3</tspan></text>
<text transform="scale(0.95 1)" font-size="36.93" fill="#375020" stroke="#375020" stroke-width="0.5" stroke-linejoin="round"><tspan x="1154.3" y="512.96">3</tspan><tspan x="1176.74" y="512.96">.</tspan><tspan x="1189.34" y="512.96">3</tspan></text>
<text transform="scale(0.95 1)" font-size="36.93" fill="#375020" stroke="#375020" stroke-width="0.5" stroke-linejoin="round"><tspan x="1154.37" y="590.46">3</tspan><tspan x="1176.93" y="590.46">.</tspan><tspan x="1189.25" y="590.46">4</tspan></text>
<text transform="scale(0.95 1)" font-size="36.93" fill="#375020" stroke="#375020" stroke-width="0.5" stroke-linejoin="round"><tspan x="1154.37" y="667.58">3</tspan><tspan x="1176.93" y="667.58">.</tspan><tspan x="1189.25" y="667.58">4</tspan></text>
<text transform="scale(0.95 1)" font-size="36.93" fill="#375020" stroke="#375020" stroke-width="0.5" stroke-linejoin="round"><tspan x="1155.23" y="744.21">3</tspan><tspan x="1177.93" y="744.21">.</tspan><tspan x="1190.56" y="744.21">5</tspan></text>
<text transform="scale(0.95 1)" font-size="36.93" fill="#375020" stroke="#375020" stroke-width="0.5" stroke-linejoin="round"><tspan x="1155.23" y="820.46">3</tspan><tspan x="1177.91" y="820.46">.</tspan><tspan x="1190.58" y="820.46">6</tspan></text>
<text transform="scale(0.95 1)" font-size="36.93" fill="#375020" stroke="#375020" stroke-width="0.5" stroke-linejoin="round"><tspan x="1155.23" y="891.21">3</tspan><tspan x="1177.91" y="891.21">.</tspan><tspan x="1190.58" y="891.21">6</tspan></text>
<text transform="scale(0.95 1)" font-size="36.93" fill="#375020" stroke="#375020" stroke-width="0.5" stroke-linejoin="round"><tspan x="1156.98" y="965.46">3</tspan><tspan x="1179.49" y="965.46">.</tspan><tspan x="1191.85" y="965.46">7</tspan></text>
<text transform="scale(0.95 1)" font-size="36.93" fill="#375020" stroke="#375020" stroke-width="0.5" stroke-linejoin="round"><tspan x="1156.98" y="1039.96">3</tspan><tspan x="1179.49" y="1039.96">.</tspan><tspan x="1191.85" y="1039.96">7</tspan></text>
<text transform="scale(0.95 1)" font-size="36.93" fill="#375020" stroke="#375020" stroke-width="0.5" stroke-linejoin="round"><tspan x="1158.07" y="1114.96">3</tspan><tspan x="1180.21" y="1114.96">.</tspan><tspan x="1192.27" y="1114.96">8</tspan></text>
<text transform="scale(0.95 1)" font-size="36.93" fill="#375020" stroke="#375020" stroke-width="0.5" stroke-linejoin="round"><tspan x="1159.01" y="1189.21">3</tspan><tspan x="1181.4" y="1189.21">.</tspan><tspan x="1193.7" y="1189.21">8</tspan></text>
<text transform="scale(0.95 1)" font-size="36.93" fill="#375020" stroke="#375020" stroke-width="0.5" stroke-linejoin="round"><tspan x="1159.01" y="1264.21">3</tspan><tspan x="1181.4" y="1264.21">.</tspan><tspan x="1193.7" y="1264.21">9</tspan></text>
<text transform="scale(0.95 1)" font-size="37.98" fill="#375020" stroke="#375020" stroke-width="0.5" stroke-linejoin="round"><tspan x="1260.63" y="440.44">8</tspan><tspan x="1283.29" y="440.44">.</tspan><tspan x="1295.19" y="440.44">4</tspan></text>
<text transform="scale(0.95 1)" font-size="37.98" fill="#375020" stroke="#375020" stroke-width="0.5" stroke-linejoin="round"><tspan x="1260.85" y="515.44">8</tspan><tspan x="1283.89" y="515.44">.</tspan><tspan x="1296.34" y="515.44">5</tspan></text>
<text transform="scale(0.95 1)" font-size="37.98" fill="#375020" stroke="#375020" stroke-width="0.5" stroke-linejoin="round"><tspan x="1260.75" y="590.82">8</tspan><tspan x="1283.62" y="590.82">.</tspan><tspan x="1295.79" y="590.82">7</tspan></text>
<text transform="scale(0.95 1)" font-size="37.98" fill="#375020" stroke="#375020" stroke-width="0.5" stroke-linejoin="round"><tspan x="1260.77" y="666.19">8</tspan><tspan x="1283.68" y="666.19">.</tspan><tspan x="1295.96" y="666.19">8</tspan></text>
<text transform="scale(0.95 1)" font-size="37.98" fill="#375020" stroke="#375020" stroke-width="0.5" stroke-linejoin="round"><tspan x="1278.3" y="741.24">9</tspan></text>
<text transform="scale(0.95 1)" font-size="37.98" fill="#375020" stroke="#375020" stroke-width="0.5" stroke-linejoin="round"><tspan x="1260.85" y="815.46">9</tspan><tspan x="1283.68" y="815.46">.</tspan><tspan x="1296.13" y="815.46">2</tspan></text>
<text transform="scale(0.95 1)" font-size="37.98" fill="#375020" stroke="#375020" stroke-width="0.5" stroke-linejoin="round"><tspan x="1260.9" y="891.84">9</tspan><tspan x="1283.82" y="891.84">.</tspan><tspan x="1296.37" y="891.84">3</tspan></text>
<text transform="scale(0.95 1)" font-size="37.98" fill="#375020" stroke="#375020" stroke-width="0.5" stroke-linejoin="round"><tspan x="1260.85" y="964.93">9</tspan><tspan x="1283.69" y="964.93">.</tspan><tspan x="1295.93" y="964.93">5</tspan></text>
<text transform="scale(0.95 1)" font-size="37.98" fill="#375020" stroke="#375020" stroke-width="0.5" stroke-linejoin="round"><tspan x="1260.11" y="1038.18">9</tspan><tspan x="1283.02" y="1038.18">.</tspan><tspan x="1295.38" y="1038.18">6</tspan></text>
<text transform="scale(0.95 1)" font-size="37.98" fill="#375020" stroke="#375020" stroke-width="0.5" stroke-linejoin="round"><tspan x="1262.62" y="1115.69">9</tspan><tspan x="1285.32" y="1115.69">.</tspan><tspan x="1297.4" y="1115.69">8</tspan></text>
<text transform="scale(0.95 1)" font-size="37.98" fill="#375020" stroke="#375020" stroke-width="0.5" stroke-linejoin="round"><tspan x="1262.62" y="1189.05">9</tspan><tspan x="1285.32" y="1189.05">.</tspan><tspan x="1297.4" y="1189.05">9</tspan></text>
<text transform="scale(0.95 1)" font-size="37.98" fill="#375020" stroke="#375020" stroke-width="0.5" stroke-linejoin="round"><tspan x="1249.92" y="1262.23" textLength="18.38" lengthAdjust="spacingAndGlyphs">1</tspan><tspan x="1274.83" y="1262.23">0</tspan><tspan x="1297.8" y="1262.23">.</tspan><tspan x="1308.96" y="1262.23" textLength="18.38" lengthAdjust="spacingAndGlyphs">1</tspan></text>
</svg>
</body></html>
